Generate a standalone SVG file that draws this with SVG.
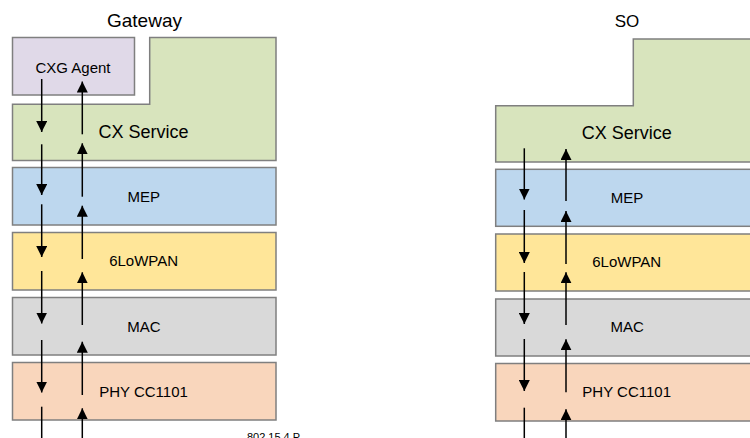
<svg xmlns="http://www.w3.org/2000/svg" width="750" height="438" viewBox="0 0 750 438">
<style>
.box{stroke:#7f7f7f;stroke-width:1.5}
.t{font-family:"Liberation Sans",Arial,sans-serif;fill:#000;text-anchor:middle}
.l{font-size:15px}
.big{font-size:18px}
.c{stroke:#000;stroke-width:1.5;fill:none}
.a{marker-end:url(#ah)}
</style>
<defs>
<marker id="ah" markerUnits="userSpaceOnUse" markerWidth="11" markerHeight="11" refX="11" refY="5.5" orient="auto" viewBox="0 0 11 11">
<path d="M0,0 L11,5.5 L0,11 z" fill="#000"/>
</marker>
</defs>
<rect width="750" height="438" fill="#fff"/>
<text class="t" x="144.5" y="27" style="font-size:19px">Gateway</text>
<text class="t" x="627" y="27" style="font-size:17px">SO</text>

<g id="gw-cxg-agent">
<rect class="box" x="12.5" y="37.5" width="122" height="57.5" fill="#E0D9E8"/>
<text class="t l" x="73" y="72.5">CXG Agent</text>
</g>
<g id="gw-cx-service">
<path class="box" d="M12.5,104.3 H149.7 V37.5 H276 V160.5 H12.5 Z" fill="#D8E4BD"/>
<text class="t big" x="143.5" y="137.5">CX Service</text>
</g>
<g id="gw-mep">
<rect class="box" x="12.5" y="167.5" width="263.5" height="57.5" fill="#BDD7EE"/>
<text class="t l" x="143.7" y="201.5">MEP</text>
</g>
<g id="gw-6lowpan">
<rect class="box" x="12.5" y="232.5" width="263.5" height="57.5" fill="#FFE699"/>
<text class="t l" x="143.6" y="266">6LoWPAN</text>
</g>
<g id="gw-mac">
<rect class="box" x="12.5" y="297.5" width="263.5" height="57.5" fill="#D9D9D9"/>
<text class="t l" x="144" y="331.5">MAC</text>
</g>
<g id="gw-phy">
<rect class="box" x="12.5" y="362.5" width="263.5" height="57.5" fill="#F9D6BC"/>
<text class="t l" x="143.5" y="396.5">PHY CC1101</text>
</g>

<g id="so-cx-service">
<path class="box" d="M495.7,105.7 H633.3 V39 H760 V162 H495.7 Z" fill="#D8E4BD"/>
<text class="t big" x="626.7" y="139.3">CX Service</text>
</g>
<g id="so-mep">
<rect class="box" x="495.7" y="169.3" width="270" height="57" fill="#BDD7EE"/>
<text class="t l" x="627" y="202.7">MEP</text>
</g>
<g id="so-6lowpan">
<rect class="box" x="495.7" y="234" width="270" height="57" fill="#FFE699"/>
<text class="t l" x="626.7" y="267.3">6LoWPAN</text>
</g>
<g id="so-mac">
<rect class="box" x="495.7" y="299" width="270" height="57" fill="#D9D9D9"/>
<text class="t l" x="627.2" y="332">MAC</text>
</g>
<g id="so-phy">
<rect class="box" x="495.7" y="363.5" width="270" height="57.5" fill="#F9D6BC"/>
<text class="t l" x="626.7" y="397.3">PHY CC1101</text>
</g>

<text class="t" x="273.5" y="440.6" style="font-size:11px">802.15.4 P</text>

<g id="connectors">
<line class="c a" x1="41.7" y1="79" x2="41.7" y2="132"/>
<line class="c a" x1="41.7" y1="144.3" x2="41.7" y2="195"/>
<line class="c a" x1="41.7" y1="204.3" x2="41.7" y2="257"/>
<line class="c a" x1="41.7" y1="271" x2="41.7" y2="323.5"/>
<line class="c a" x1="41.7" y1="340" x2="41.7" y2="392.5"/>
<line class="c" x1="41.7" y1="406.7" x2="41.7" y2="440"/>
<line class="c a" x1="82.3" y1="134.3" x2="82.3" y2="81.5"/>
<line class="c a" x1="82.3" y1="196.7" x2="82.3" y2="143.3"/>
<line class="c a" x1="82.3" y1="259" x2="82.3" y2="205.7"/>
<line class="c a" x1="82.3" y1="325" x2="82.3" y2="272.3"/>
<line class="c a" x1="82.3" y1="395" x2="82.3" y2="341.7"/>
<line class="c a" x1="82.3" y1="445" x2="82.3" y2="408.3"/>

<line class="c a" x1="524.3" y1="148.3" x2="524.3" y2="199.5"/>
<line class="c a" x1="524.3" y1="210" x2="524.3" y2="263"/>
<line class="c a" x1="524.3" y1="272" x2="524.3" y2="324"/>
<line class="c a" x1="524.3" y1="339" x2="524.3" y2="391"/>
<line class="c" x1="524.3" y1="407.7" x2="524.3" y2="440"/>
<line class="c a" x1="566" y1="201" x2="566" y2="149"/>
<line class="c a" x1="566" y1="264" x2="566" y2="211"/>
<line class="c a" x1="566" y1="325" x2="566" y2="272.3"/>
<line class="c a" x1="566" y1="392.3" x2="566" y2="339.3"/>
<line class="c a" x1="566" y1="445" x2="566" y2="409.3"/>
</g>
</svg>
